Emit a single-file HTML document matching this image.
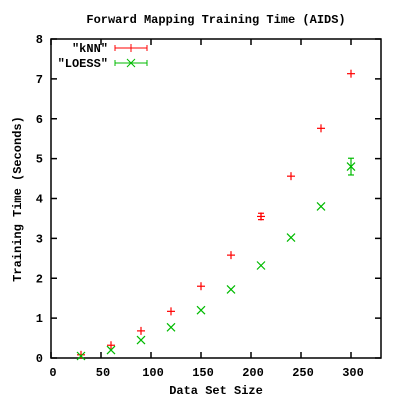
<!DOCTYPE html>
<html><head><meta charset="utf-8"><style>
body{margin:0;background:#fff}
svg text{font-family:"Liberation Mono","DejaVu Sans Mono",monospace;font-weight:bold;font-size:12px;fill:#000}
</style></head><body>
<svg id="chart" width="400" height="400" viewBox="0 0 400 400">
<rect width="400" height="400" fill="#fff"/>
<text x="216" y="23" text-anchor="middle">Forward Mapping Training Time (AIDS)</text>
<text x="216" y="394" text-anchor="middle">Data Set Size</text>
<text transform="translate(21,199) rotate(-90)" text-anchor="middle">Training Time (Seconds)</text>
<g id="axes"></g>
<g id="marks"></g>
<g>
<text x="108" y="52" text-anchor="end">"kNN"</text>
<g stroke="#f00"><line x1="115" y1="48" x2="147" y2="48"/><line x1="115" y1="45" x2="115" y2="51"/><line x1="147" y1="45" x2="147" y2="51"/><line x1="131" y1="44" x2="131" y2="52"/></g>
<text x="108" y="67" text-anchor="end">"LOESS"</text>
<g stroke="#0b0"><line x1="115" y1="63" x2="147" y2="63"/><line x1="115" y1="60" x2="115" y2="66"/><line x1="147" y1="60" x2="147" y2="66"/><line x1="127" y1="59" x2="135" y2="67"/><line x1="127" y1="67" x2="135" y2="59"/></g>
</g>
</svg>
<script>
const xs=[30,60,90,120,150,180,210,240,270,300];
const knn=[0.08,0.32,0.68,1.17,1.8,2.58,3.55,4.56,5.76,7.13];
const knnErr=[0,0,0,0,0,0,0.08,0,0,0];
const loess=[0.05,0.2,0.45,0.77,1.2,1.72,2.32,3.02,3.8,4.8];
const loessErr=[0,0,0,0,0,0,0,0,0,0.21];
const xTicks=[0,50,100,150,200,250,300];
const yTicks=[0,1,2,3,4,5,6,7,8];
const L=51,R=381,T=39,B=358,XMAX=330,YMAX=8;
const sx=v=>L+v*(R-L)/XMAX, sy=v=>B-v*(B-T)/YMAX;
const NS="http://www.w3.org/2000/svg";
function mk(tag,attrs,parent){const e=document.createElementNS(NS,tag);for(const k in attrs)e.setAttribute(k,attrs[k]);parent.appendChild(e);return e;}
const axes=document.getElementById('axes'),marks=document.getElementById('marks');
const frame=mk('rect',{x:L,y:T,width:R-L,height:B-T,fill:'none',stroke:'#000','stroke-width':1.5},axes);


xTicks.forEach(v=>{
 const x=sx(v);
 const g=mk('g',{},axes);
 
 
 mk('line',{x1:x,y1:B,x2:x,y2:B-6,stroke:'#000','stroke-width':1.5},g);
 mk('line',{x1:x,y1:T,x2:x,y2:T+6,stroke:'#000','stroke-width':1.5},g);
 const t=mk('text',{x:x+2,y:B+18,'text-anchor':'middle'},g);t.textContent=v;
});
yTicks.forEach(v=>{
 const y=sy(v);
 const g=mk('g',{},axes);
 
 
 mk('line',{x1:L,y1:y,x2:L+6,y2:y,stroke:'#000','stroke-width':1.5},g);
 mk('line',{x1:R,y1:y,x2:R-6,y2:y,stroke:'#000','stroke-width':1.5},g);
 const t=mk('text',{x:L-8,y:y+4,'text-anchor':'end'},g);t.textContent=v;
});
function series(vals,errs,color,kind){
 vals.forEach((v,i)=>{
  const x=sx(xs[i]),y=sy(v);
  const g=mk('g',{stroke:color,'stroke-width':1.2},marks);
  
  
  if(errs[i]>0){
   const y1=sy(v+errs[i]),y2=sy(v-errs[i]);
   mk('line',{x1:x,y1:y1,x2:x,y2:y2},g);
   mk('line',{x1:x-3,y1:y1,x2:x+3,y2:y1},g);
   mk('line',{x1:x-3,y1:y2,x2:x+3,y2:y2},g);
  }
  if(kind==='knn'){
   mk('line',{x1:x-4,y1:y,x2:x+4,y2:y},g);
   mk('line',{x1:x,y1:y-4,x2:x,y2:y+4},g);
  } else {
   mk('line',{x1:x-4,y1:y-4,x2:x+4,y2:y+4},g);
   mk('line',{x1:x-4,y1:y+4,x2:x+4,y2:y-4},g);
  }
 });
}
series(knn,knnErr,'#f00','knn');
series(loess,loessErr,'#0b0','loess');
</script>
</body></html>
